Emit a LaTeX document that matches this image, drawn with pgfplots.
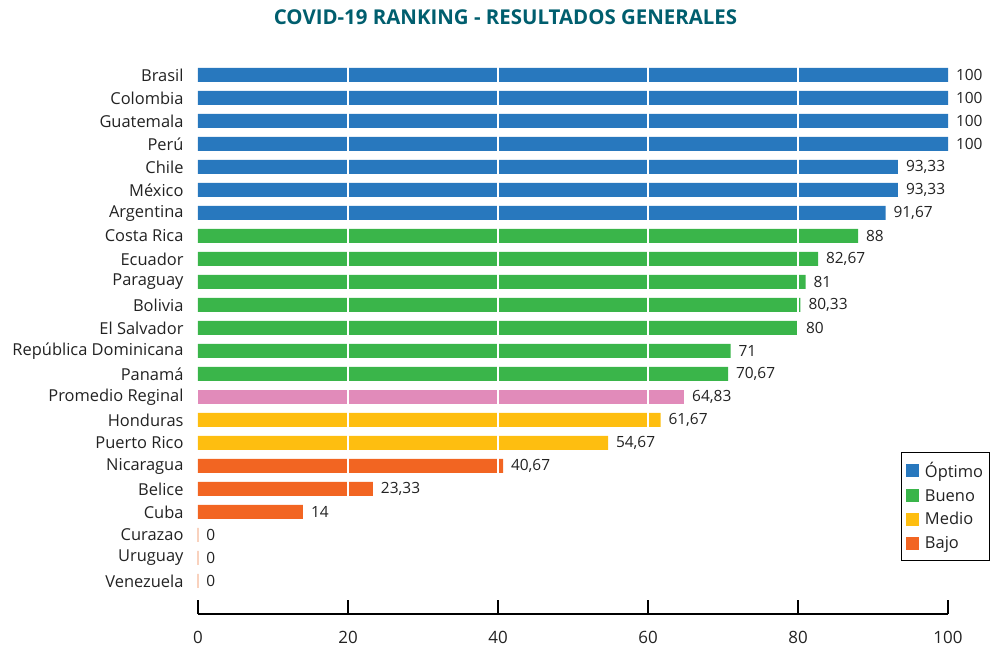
\documentclass[border=0pt]{standalone}
\usepackage{pgfplots}
\pgfplotsset{compat=1.18}
\usepackage{fontspec}
\setmainfont{Open Sans}
\definecolor{cblue}{HTML}{2878BE}
\definecolor{cgreen}{HTML}{3AB54A}
\definecolor{cyellow}{HTML}{FEBE10}
\definecolor{corange}{HTML}{F26522}
\definecolor{cpink}{HTML}{E18BBA}
\definecolor{cteal}{HTML}{005E6E}
\definecolor{czero}{HTML}{F9D2BE}
\definecolor{ctext}{HTML}{222222}
\begin{document}
\begin{tikzpicture}
\begin{axis}[
  scale only axis, width=750bp, height=550.5bp,
  xmin=0, xmax=100, ymin=-1.435, ymax=22.5,
  enlargelimits=false, clip=false,
  axis x line=bottom, axis y line=left,
  x axis line style={-, line width=1.3bp, black},
  y axis line style={draw=none},
  xtick={0,20,40,60,80,100},
  major tick length=14bp, tick align=inside,
  xtick style={black, line width=1.3bp},
  ytick style={draw=none},
  /pgf/number format/assume math mode=true,
  xticklabel style={font=\fontsize{17}{20}\selectfont, color=ctext, inner sep=0pt, yshift=-17.5bp},
  ytick={0,...,22},
  yticklabels={Venezuela,Uruguay,Curazao,Cuba,Belice,Nicaragua,Puerto Rico,Honduras,Promedio Reginal,Panamá,República Dominicana,El Salvador,Bolivia,Paraguay,Ecuador,Costa Rica,Argentina,México,Chile,Perú,Guatemala,Colombia\ ,Brasil},
  yticklabel style={font=\fontsize{16.5}{18}\selectfont, color=ctext, xshift=-11bp},
  title={COVID-19 RANKING - RESULTADOS GENERALES},
  title style={at={(0.41,1)}, anchor=base, yshift=33.5bp, color=cteal, font=\bfseries\fontsize{20.5}{22}\selectfont},
  legend style={at={(0.9373,0.2943)}, anchor=north west, draw=black, line width=1bp,
    font=\fontsize{16.5}{18}\selectfont, text=ctext, inner xsep=4.5bp, inner ysep=8bp, row sep=6bp,
    cells={anchor=west}, /tikz/every odd column/.append style={column sep=4bp}},
  legend image code/.code={\fill[#1] (0bp,-6.5bp) rectangle (13bp,6.5bp);},
  every node near coord/.append style={font=\fontsize{15.5}{17}\selectfont, color=ctext, anchor=west, xshift=4.5bp},
]
\addplot[xbar, fill=cblue, draw=none, bar width=14bp, bar shift=0pt,
  nodes near coords, nodes near coords align=horizontal, point meta=explicit symbolic]
  coordinates {(100,22)[100] (100,21)[100] (100,20)[100] (100,19)[100]
  (93.33,18)[93,33] (93.33,17)[93,33] (91.67,16)[91,67]};
\addlegendentry{Óptimo}
\addplot[xbar, fill=cgreen, draw=none, bar width=14bp, bar shift=0pt,
  nodes near coords, nodes near coords align=horizontal, point meta=explicit symbolic]
  coordinates {(88,15)[88] (82.67,14)[82,67] (81,13)[81] (80.33,12)[80,33]
  (80,11)[80] (71,10)[71] (70.67,9)[70,67]};
\addlegendentry{Bueno}
\addplot[xbar, fill=cpink, draw=none, bar width=14bp, bar shift=0pt, forget plot,
  nodes near coords, nodes near coords align=horizontal, point meta=explicit symbolic]
  coordinates {(64.83,8)[64,83]};
\addplot[xbar, fill=cyellow, draw=none, bar width=14bp, bar shift=0pt,
  nodes near coords, nodes near coords align=horizontal, point meta=explicit symbolic]
  coordinates {(61.67,7)[61,67] (54.67,6)[54,67]};
\addlegendentry{Medio}
\addplot[xbar, fill=corange, draw=none, bar width=14bp, bar shift=0pt,
  nodes near coords, nodes near coords align=horizontal, point meta=explicit symbolic]
  coordinates {(40.67,5)[40,67] (23.33,4)[23,33] (14,3)[14]};
\addlegendentry{Bajo}
\addplot[xbar, fill=czero, draw=czero, line width=1.2bp, bar width=14bp, bar shift=0pt, forget plot,
  nodes near coords, nodes near coords align=horizontal, point meta=explicit symbolic]
  coordinates {(0,2)[0] (0,1)[0] (0,0)[0]};
\addplot[white, line width=1.8bp, forget plot] coordinates {(20,-0.5) (20,22.5)};
\addplot[white, line width=1.8bp, forget plot] coordinates {(40,-0.5) (40,22.5)};
\addplot[white, line width=1.8bp, forget plot] coordinates {(60,-0.5) (60,22.5)};
\addplot[white, line width=1.8bp, forget plot] coordinates {(80,-0.5) (80,22.5)};
\end{axis}
\path (-198bp,-33bp) rectangle (797bp,614bp);
\end{tikzpicture}
\end{document}
